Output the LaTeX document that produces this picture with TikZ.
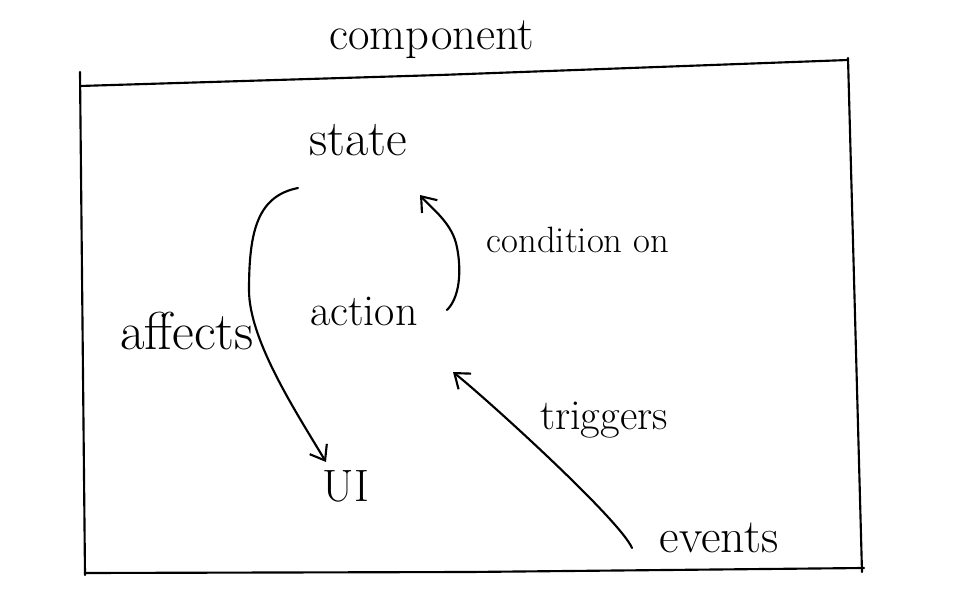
\documentclass[tikz,border=0pt]{standalone}
\usetikzlibrary{arrows.meta}
\begin{document}
\begin{tikzpicture}[x=0.75pt,y=-0.75pt,
  line width=1.6pt, line cap=round, line join=round,
  lbl/.style={inner sep=0pt, anchor=center},
  conn/.style={-{Straight Barb[length=10pt,width=15pt,line width=1.6pt]}}]
\useasboundingbox (0,0) rectangle (965,595);
% frame
\draw (80,72) -- (85,575);
\draw (80,86) -- (440,75) -- (848,60);
\draw (848,58) -- (862,572);
\draw (85,573) -- (470,572) -- (864,568);
% labels
\node[lbl,font=\fontsize{35}{36}\selectfont] (component) at (432,40) {component};
\node[lbl,font=\fontsize{38}{39}\selectfont] (state) at (358,140) {state};
\node[lbl,font=\fontsize{27.5}{28}\selectfont] (cond) at (578,240) {condition on};
\node[lbl,font=\fontsize{33}{34}\selectfont] (action) at (364,311) {action};
\node[lbl,font=\fontsize{40}{41}\selectfont] (affects) at (187,331) {affects};
\node[lbl,font=\fontsize{32}{33}\selectfont] (triggers) at (604,420) {triggers};
\node[lbl,font=\fontsize{34}{35}\selectfont] (ui) at (346,486) {UI};
\node[lbl,font=\fontsize{36}{37}\selectfont] (events) at (719,538) {events};
% connectors
\draw[conn] ([shift={(-60,48)}]state.center)
  .. controls +(-40,8) and +(0,-60) .. ([shift={(62,-41)}]affects.center)
  .. controls +(0,50) and +(-30,-50) .. ([shift={(-20,-24)}]ui.center);
\draw[conn] ([shift={(83,-1)}]action.center)
  .. controls +(15,-15) and +(5,20) .. ([shift={(92,-68)}]action.center)
  .. controls +(-6,-22) and +(10,12) .. ([shift={(62,55)}]state.center);
\draw[conn] ([shift={(-87,10)}]events.center)
  .. controls +(-12,-28) and +(35,28) .. ([shift={(89,61)}]action.center);
\end{tikzpicture}
\end{document}
